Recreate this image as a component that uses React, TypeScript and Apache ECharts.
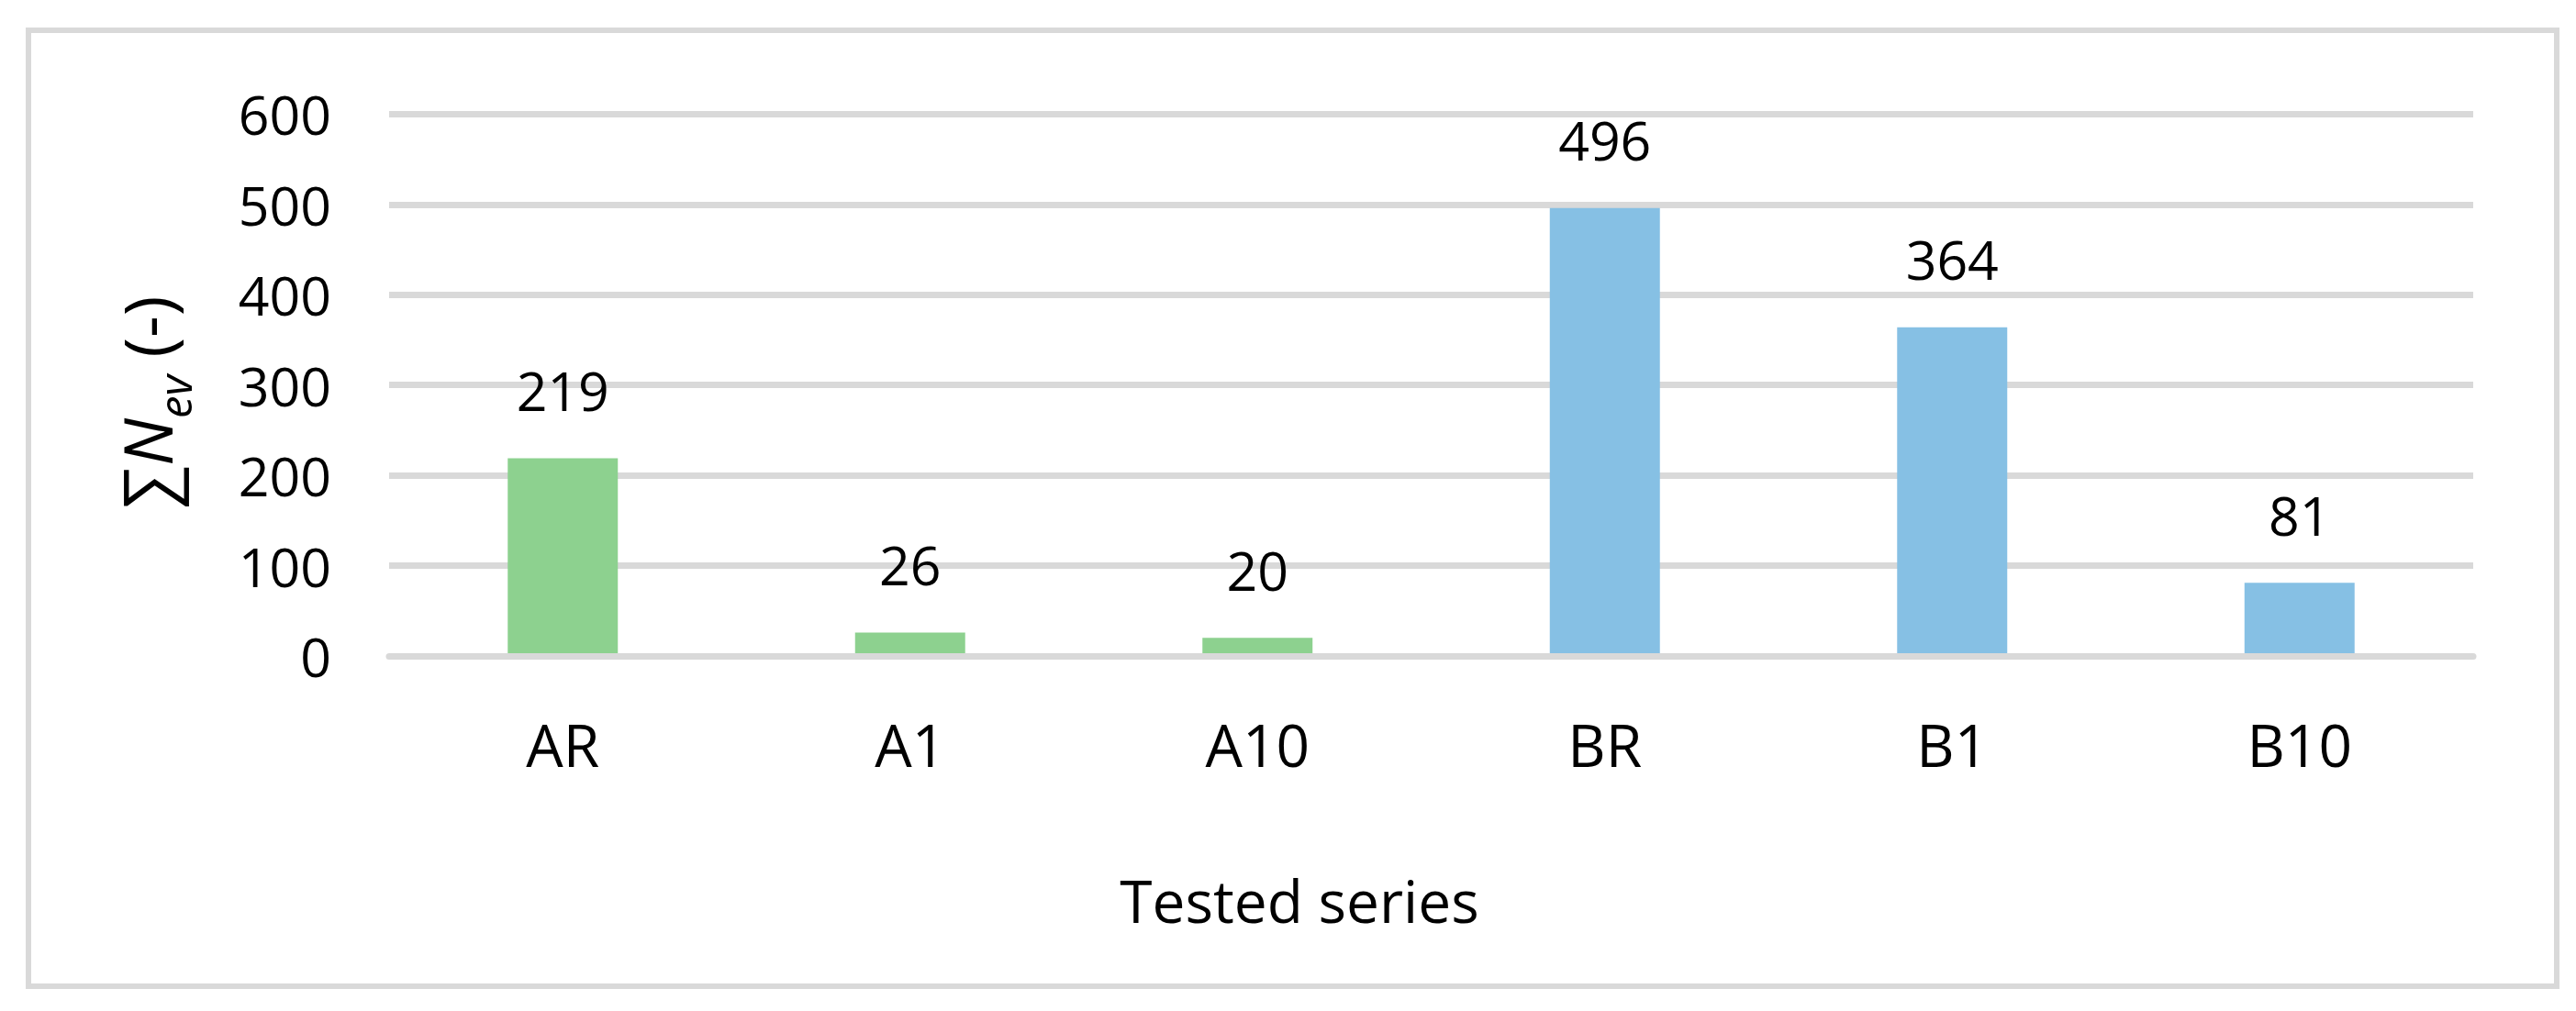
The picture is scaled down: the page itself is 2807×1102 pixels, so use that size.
import React, { useEffect, useRef } from "react";
import * as echarts from "echarts";

const categories = ["AR", "A1", "A10", "BR", "B1", "B10"];
const values = [219, 26, 20, 496, 364, 81];
const groupOfBar = ["A", "A", "A", "B", "B", "B"];
const groupColors: Record<string, string> = { A: "#8DD18F", B: "#86C0E4" };
const yMin = 0;
const yMax = 600;
const yInterval = 100;
const xTitle = "Tested series";

const FONT = "'Open Sans', 'Noto Sans', 'Liberation Sans', sans-serif";

export default function App() {
  const ref = useRef<HTMLDivElement>(null);
  useEffect(() => {
    document.body.style.margin = "0";
    if (!ref.current) return;
    const chart = echarts.init(ref.current, undefined, { renderer: "svg" });
    chart.setOption({
      animation: false,
      backgroundColor: "#ffffff",
      textStyle: { fontFamily: FONT },
      grid: { left: 424, right: 112, top: 124.3, bottom: 387, containLabel: false },
      xAxis: {
        type: "category",
        data: categories,
        z: 3,
        axisLine: { show: true, lineStyle: { color: "#D9D9D9", width: 7 } },
        axisTick: { show: false },
        axisLabel: { margin: 64, fontSize: 64, color: "#000", fontFamily: FONT },
      },
      yAxis: {
        type: "value",
        min: yMin,
        max: yMax,
        interval: yInterval,
        axisLine: { show: false },
        axisTick: { show: false },
        splitLine: { show: true, lineStyle: { color: "#D9D9D9", width: 7 } },
        axisLabel: { margin: 63, fontSize: 59, color: "#000", fontFamily: FONT },
      },
      series: [
        {
          type: "bar",
          barWidth: "31.7%",
          data: values.map((v, i) => ({
            value: v,
            itemStyle: { color: groupColors[groupOfBar[i]] },
          })),
          label: {
            show: true,
            position: "top",
            distance: 45,
            fontSize: 59,
            color: "#000",
            fontFamily: FONT,
          },
        },
      ],
      graphic: [
        {
          type: "rect",
          shape: { x: 31, y: 33, width: 2755, height: 1042 },
          style: { fill: "none", stroke: "#D9D9D9", lineWidth: 6 },
          z: -1,
        },
        {
          type: "text",
          x: 1416,
          y: 981,
          style: {
            text: xTitle,
            fontSize: 64,
            fontFamily: FONT,
            fill: "#000",
            textAlign: "center",
            textVerticalAlign: "middle",
          },
        },
        {
          type: "text",
          x: 122,
          y: 438.5,
          rotation: Math.PI / 2,
          style: {
            text: "{s|∑}{n|N}{e|ev}{p| (-)}",
            fill: "#000",
            fontFamily: FONT,
            textAlign: "center",
            textVerticalAlign: "top",
            rich: {
              s: { fontSize: 74, lineHeight: 74, verticalAlign: "top", fontFamily: FONT, fill: "#000" },
              n: { fontSize: 74, lineHeight: 74, verticalAlign: "top", fontStyle: "italic", fontFamily: FONT, fill: "#000" },
              e: { fontSize: 49, lineHeight: 136, fontStyle: "italic", fontFamily: FONT, fill: "#000" },
              p: { fontSize: 74, lineHeight: 74, verticalAlign: "top", fontFamily: FONT, fill: "#000" },
            },
          },
        },
      ],
    });
    return () => chart.dispose();
  }, []);
  return <div ref={ref} style={{ width: 2807, height: 1102 }} />;
}
